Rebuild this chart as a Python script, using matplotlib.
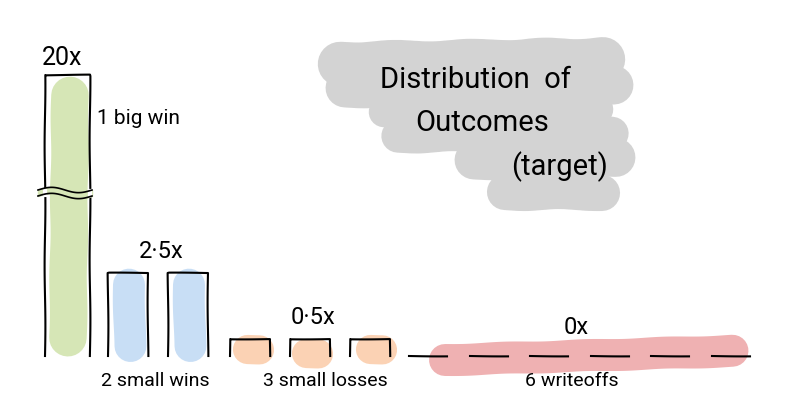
import matplotlib.pyplot as plt
import numpy as np

# outcomes of the portfolio (multiple of money returned)
groups = ["1 big win", "2 small wins", "3 small losses", "6 writeoffs"]
counts = [1, 2, 3, 6]
multiples = [20, 2.5, 0.5, 0]
multiple_labels = ["20x", "2·5x", "0·5x", "0x"]
colors = ["#d6e6b6", "#c8def5", "#fbd2b4", "#efb1b2"]

title_lines = ["Distribution  of", "Outcomes", "(target)"]

# layout (pixels along x, values along y)
PX = 33.2          # pixels per unit of value
BASE = 356         # baseline, pixels from top
CAP = 8.45         # drawn height of the broken bar
group_x = [[67], [128, 188], [250, 310, 370], [428 + 60.5 * i for i in range(6)]]
widths = [45, 40, 40, 38]
hand = dict(family=["Roboto", "DejaVu Sans"], fontweight="normal")


def py(p):
    return (BASE - p) / PX


fig = plt.figure(figsize=(7.86, 4.17), dpi=100)
ax = fig.add_axes([0, 0, 1, 1])
ax.set_xlim(0, 786)
ax.set_ylim(py(417), py(0))
ax.axis("off")

# grey cloud behind the title
cloud = [((340, 64), (603, 60), 32), ((345, 88), (614, 86), 28), ((384, 112), (598, 110), 22),
         ((398, 136), (612, 134), 24), ((474, 160), (616, 158), 28), ((505, 192), (602, 192), 26)]
for (x0, y0), (x1, y1), lw in cloud:
    ln, = ax.plot([x0, x1], [py(y0), py(y1)], color="#d3d3d3", lw=lw, solid_capstyle="round", zorder=1)
    ln.set_sketch_params(1, 80, 2)
ax.text(475, py(80), title_lines[0], fontsize=21, ha="center", va="center", zorder=5, **hand)
ax.text(482, py(123), title_lines[1], fontsize=21, ha="center", va="center", zorder=5, **hand)
ax.text(560, py(167), title_lines[2], fontsize=21, ha="center", va="center", zorder=5, **hand)

blob_shift = [(3, 0.22), (2, 0.1), (6, 0.22)]
for gi, (xs, w, v, c) in enumerate(zip(group_x, widths, multiples, colors)):
    h = min(v, CAP)
    # highlighter strokes
    if v > 0:
        for j, x in enumerate(xs):
            if gi == 0:
                ln, = ax.plot([x + 3, x + 1], [h - 0.6, 0.55], color=c, lw=27, solid_capstyle="round", zorder=2)
            elif gi == 1:
                ln, = ax.plot([x + 1, x + 2], [h - 0.35, 0.3], color=c, lw=23, solid_capstyle="round", zorder=2)
            else:
                dx, yy = blob_shift[j]
                ln, = ax.plot([x + dx - 6, x + dx + 6], [yy, yy], color=c, lw=21,
                              solid_capstyle="round", zorder=2)
            ln.set_sketch_params(0.5, 80, 1)
    else:
        ln, = ax.plot([xs[0] + 17, xs[-1] + 2], [py(360), py(351)], color=c, lw=23,
                      solid_capstyle="round", zorder=2)
        ln.set_sketch_params(0.5, 80, 1)
    # outlines
    for x in xs:
        if v > 0:
            ln, = ax.plot([x - w / 2, x - w / 2, x + w / 2, x + w / 2], [0, h, h, 0],
                          color="black", lw=1.5, zorder=4)
        else:
            ln, = ax.plot([x - w / 2, x + w / 2], [0, 0], color="black", lw=1.5, zorder=4)
        ln.set_sketch_params(0.4, 120, 1)
    # value label
    mid = np.mean(xs)
    if gi == 0:
        ax.text(mid - 5, h + 0.15, multiple_labels[gi], fontsize=18, ha="center", va="bottom", **hand)
        ax.text(xs[0] + 30, py(118), groups[gi], fontsize=15, ha="left", va="center", **hand)
    else:
        lab_y = h + 0.3 if v > 0 else py(328)
        ax.text(mid + (3 if gi < 3 else -3), lab_y, multiple_labels[gi], fontsize=17,
                ha="center", va="bottom" if v > 0 else "center", **hand)
        gx = [155, 325, 572][gi - 1]
        ax.text(gx, py(381), groups[gi], fontsize=14, ha="center", va="center", **hand)

# break marks on the big bar
t = np.linspace(38, 92, 60)
wave = 0.08 * np.sin((t - 38) / 54 * 2 * np.pi)
for off in (-3, 3):
    ax.plot(t, py(193 + off) + wave, color="black", lw=1.2, zorder=6)
ax.fill_between(t, py(190) + wave, py(196) + wave, color=colors[0], zorder=5)
ax.plot([45, 45], [py(191), py(195)], color="white", lw=3, zorder=5)
ax.plot([90, 90], [py(191), py(195)], color="white", lw=3, zorder=5)

fig.savefig("out.png", dpi=100)
